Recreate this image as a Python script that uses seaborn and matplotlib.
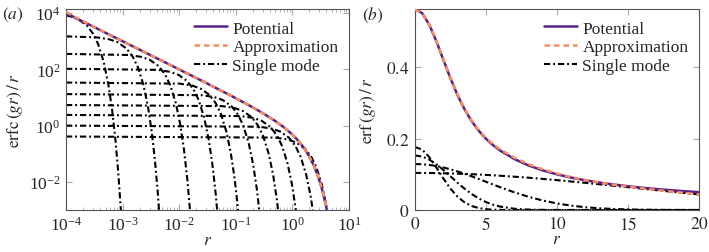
import matplotlib
matplotlib.use("Agg")
import matplotlib.pyplot as plt
import seaborn as sns

sns.set_style("ticks")
plt.rcParams["font.family"] = ["Liberation Serif", "DejaVu Serif"]
plt.rcParams["mathtext.fontset"] = "stix"

# ---------- panel (a): erfc(gr)/r, log-log ----------
pot_a_r = [1e-4, 1e-3, 1e-2, 0.03, 0.1, 0.2, 0.3, 0.5, 0.7, 1.0, 1.3, 1.6,
           2.0, 2.4, 2.8, 3.2, 3.6, 4.0, 4.2]
pot_a = [1.0e4, 999.4, 99.44, 32.77, 9.436, 4.437, 2.773, 1.447, 0.8866,
         0.4795, 0.2754, 0.1612, 0.0786, 0.0374, 0.01704, 0.00739, 0.00303,
         0.00117, 0.00071]

approx_a_r = [1e-4, 1.5e-4, 2.5e-4, 5e-4, 1e-3, 1e-2, 0.03, 0.1, 0.2, 0.3,
              0.5, 0.7, 1.0, 1.3, 1.6, 2.0, 2.4, 2.8, 3.2, 3.6, 4.0, 4.2]
approx_a = [1.1e4, 7.0e3, 4.15e3, 2.0e3, 999.4, 99.44, 32.77, 9.436, 4.437,
            2.773, 1.447, 0.8866, 0.4795, 0.2754, 0.1612, 0.0786, 0.0374,
            0.01704, 0.00739, 0.00303, 0.00117, 0.00071]

modes_a_r = [
    [1e-4, 1.16e-4, 1.624e-4, 2.32e-4, 3.016e-4, 3.712e-4, 4.64e-4, 5.568e-4,
     6.496e-4, 7.424e-4, 8.352e-4, 9.28e-4, 1.0208e-3],
    [1e-4, 3.51e-4, 5.85e-4, 8.19e-4, 1.17e-3, 1.521e-3, 1.872e-3, 2.34e-3,
     2.808e-3, 3.276e-3, 3.744e-3, 4.212e-3, 4.68e-3],
    [1e-4, 1.302e-3, 2.17e-3, 3.038e-3, 4.34e-3, 5.642e-3, 6.944e-3, 8.68e-3,
     0.010416, 0.012152, 0.013888, 0.015624, 0.01736],
    [1e-4, 4.14e-3, 6.9e-3, 9.66e-3, 0.0138, 0.01794, 0.02208, 0.0276,
     0.03312, 0.03864, 0.04416, 0.04968],
    [1e-4, 0.0102, 0.017, 0.0238, 0.034, 0.0442, 0.0544, 0.068, 0.0816,
     0.0952, 0.1088, 0.1224],
    [1e-4, 0.02532, 0.0422, 0.05908, 0.0844, 0.10972, 0.13504, 0.1688,
     0.20256, 0.23632, 0.27008],
    [1e-4, 0.0573, 0.0955, 0.1337, 0.191, 0.2483, 0.3056, 0.382, 0.4584,
     0.5348, 0.6112],
    [1e-4, 0.1236, 0.206, 0.2884, 0.412, 0.5356, 0.6592, 0.824, 0.9888,
     1.1536, 1.3184],
    [1e-4, 0.2625, 0.4375, 0.6125, 0.875, 1.1375, 1.4, 1.75, 2.1, 2.45],
    [1e-4, 0.501, 0.835, 1.169, 1.67, 2.171, 2.672, 3.34, 4.008, 4.676],
]
modes_a = [
    [8300, 7788, 6126, 3679, 1845, 773, 183, 31.5, 3.94, 0.357, 0.0235,
     0.00113, 3.9e-5],
    [1489, 1371, 1168, 919, 552, 277, 116, 27.5, 4.73, 0.591, 0.0536,
     0.00353, 0.000169],
    [355, 324, 276, 217, 131, 65.5, 27.4, 6.50, 1.12, 0.140, 0.0127,
     8.3e-4, 4.0e-5],
    [105, 96.0, 81.8, 64.3, 38.6, 19.4, 8.12, 1.92, 0.331, 0.0414, 0.00375,
     2.47e-4],
    [34, 31.1, 26.5, 20.8, 12.5, 6.27, 2.63, 0.623, 0.107, 0.0134, 0.00121,
     8.0e-5],
    [13.2, 12.06, 10.28, 8.09, 4.86, 2.44, 1.02, 0.242, 0.0416, 0.0052,
     4.7e-4],
    [5.4, 4.94, 4.21, 3.31, 1.99, 0.996, 0.417, 0.0989, 0.0170, 0.00213,
     1.93e-4],
    [2.4, 2.19, 1.87, 1.47, 0.883, 0.443, 0.186, 0.044, 0.00756, 9.5e-4,
     8.6e-5],
    [1.0, 0.914, 0.779, 0.613, 0.368, 0.1845, 0.0773, 0.0183, 0.00315,
     3.9e-4],
    [0.41, 0.375, 0.319, 0.251, 0.151, 0.0756, 0.0317, 0.00751, 0.00129,
     1.6e-4],
]

# ---------- panel (b): erf(gr)/r, linear ----------
r_b = [0, 0.5, 1, 1.5, 2, 2.5, 3, 3.5, 4, 4.5, 5, 5.5, 6, 7, 8, 9, 10, 11,
       12, 13, 14, 15, 16, 17, 18, 19, 20]
pot_b = [0.5642, 0.5526, 0.5205, 0.4741, 0.4214, 0.3692, 0.3220, 0.2819,
         0.2488, 0.2219, 0.1999, 0.1818, 0.1667, 0.1429, 0.1250, 0.1111,
         0.1000, 0.0909, 0.0833, 0.0769, 0.0714, 0.0667, 0.0625, 0.0588,
         0.0556, 0.0526, 0.0500]
approx_b = [0.5630, 0.5519, 0.5207, 0.4754, 0.4231, 0.3710, 0.3237, 0.2834,
            0.2504, 0.2238, 0.2022, 0.1846, 0.1699, 0.1466, 0.1287, 0.1142,
            0.1023, 0.0922, 0.0840, 0.0770, 0.0709, 0.0655, 0.0607, 0.0562,
            0.0518, 0.0477, 0.0438]
modes_b = [
    [0.177, 0.1695, 0.1488, 0.1198, 0.0884, 0.0598, 0.0371, 0.0211, 0.0110,
     0.0053, 0.0023, 0.0009, 0.0003, 0, 0, 0, 0, 0, 0, 0, 0, 0, 0, 0, 0, 0,
     0],
    [0.153, 0.1501, 0.1416, 0.1286, 0.1123, 0.0944, 0.0764, 0.0594, 0.0445,
     0.0321, 0.0222, 0.0148, 0.0095, 0.0035, 0.0011, 0.0003, 0.0001, 0, 0, 0,
     0, 0, 0, 0, 0, 0, 0],
    [0.129, 0.1284, 0.1265, 0.1235, 0.1193, 0.1142, 0.1082, 0.1016, 0.0944,
     0.0869, 0.0792, 0.0715, 0.0639, 0.0496, 0.0370, 0.0266, 0.0184, 0.0122,
     0.0078, 0.0048, 0.0028, 0.0016, 0.0009, 0.0005, 0.0002, 0.0001, 0.0001],
    [0.104, 0.1039, 0.1038, 0.1035, 0.1031, 0.1026, 0.1020, 0.1013, 0.1005,
     0.0995, 0.0985, 0.0974, 0.0962, 0.0935, 0.0906, 0.0873, 0.0838, 0.0800,
     0.0762, 0.0722, 0.0681, 0.0639, 0.0598, 0.0557, 0.0516, 0.0476, 0.0438],
]

purple = "#55228a"
orange = "#fb8c5c"
dashdot = (0, (3.0, 1.4, 0.9, 1.4))

fig = plt.figure(figsize=(7.09, 2.53), dpi=100)
ax_a = fig.add_axes([66 / 709, 42 / 253, 283 / 709, 201 / 253])
ax_b = fig.add_axes([415 / 709, 42 / 253, 284 / 709, 201 / 253])


def draw(ax, mode_xs, mode_ys, px, py, ax_x, ay):
    for i, (mx, my) in enumerate(zip(mode_xs, mode_ys)):
        sns.lineplot(x=mx, y=my, ax=ax, color="black", linewidth=1.5,
                     linestyle=dashdot, label="Single mode" if i == 0 else None,
                     zorder=2)
    sns.lineplot(x=px, y=py, ax=ax, color=purple, linewidth=1.8,
                 label="Potential", zorder=3)
    sns.lineplot(x=ax_x, y=ay, ax=ax, color=orange, linewidth=1.8,
                 linestyle=(0, (2.2, 1.6)), label="Approximation", zorder=4)
    handles, labels = ax.get_legend_handles_labels()
    order = [labels.index(k) for k in ["Potential", "Approximation", "Single mode"]]
    ax.legend([handles[k] for k in order], [labels[k] for k in order],
              loc="upper right", bbox_to_anchor=(1.0, 0.995), frameon=False,
              fontsize=12.5, handlelength=1.9, handletextpad=0.3,
              labelspacing=0.15, borderaxespad=0.2)


draw(ax_a, modes_a_r, modes_a, pot_a_r, pot_a, approx_a_r, approx_a)
draw(ax_b, [r_b] * 4, modes_b, r_b, pot_b, r_b, approx_b)

ax_a.set_xscale("log")
ax_a.set_yscale("log")
ax_a.set_xlim(1e-4, 1e1)
ax_a.set_ylim(1e-3, 1.4e4)
ax_a.set_xticks([1e-4, 1e-3, 1e-2, 1e-1, 1e0, 1e1])
ax_a.set_yticks([1e-2, 1e0, 1e2, 1e4])
ax_a.yaxis.set_minor_locator(matplotlib.ticker.NullLocator())
ax_a.set_ylabel(r"$\mathrm{erfc}\,(gr)\,/\,r$", fontsize=12.5, labelpad=3)

ax_b.set_xlim(0, 20)
ax_b.set_ylim(0, 0.5642)
ax_b.set_xticks([0, 5, 10, 15, 20])
ax_b.set_yticks([0, 0.2, 0.4])
ax_b.set_yticklabels(["$0$", "$0.2$", "$0.4$"])
ax_b.set_xticklabels(["$0$", "$5$", "$10$", "$15$", "$20$"])
ax_b.set_ylabel(r"$\mathrm{erf}\,(gr)\,/\,r$", fontsize=12.5, labelpad=6)

for ax in (ax_a, ax_b):
    ax.set_xlabel("$r$", fontsize=12.5, labelpad=-1)
    for s in ax.spines.values():
        s.set_color("#555555")
        s.set_linewidth(0.8)
    ax.tick_params(which="both", direction="in", top=True, right=True,
                   color="#aaaaaa", labelsize=12.5, pad=4)
    ax.tick_params(which="major", length=4)
    ax.tick_params(which="minor", length=2)

fig.text(2 / 709, 1 - 15 / 253, "$(a)$", fontsize=12.5, va="center")
fig.text(362 / 709, 1 - 15 / 253, "$(b)$", fontsize=12.5, va="center")

fig.savefig("out.png", dpi=100)
